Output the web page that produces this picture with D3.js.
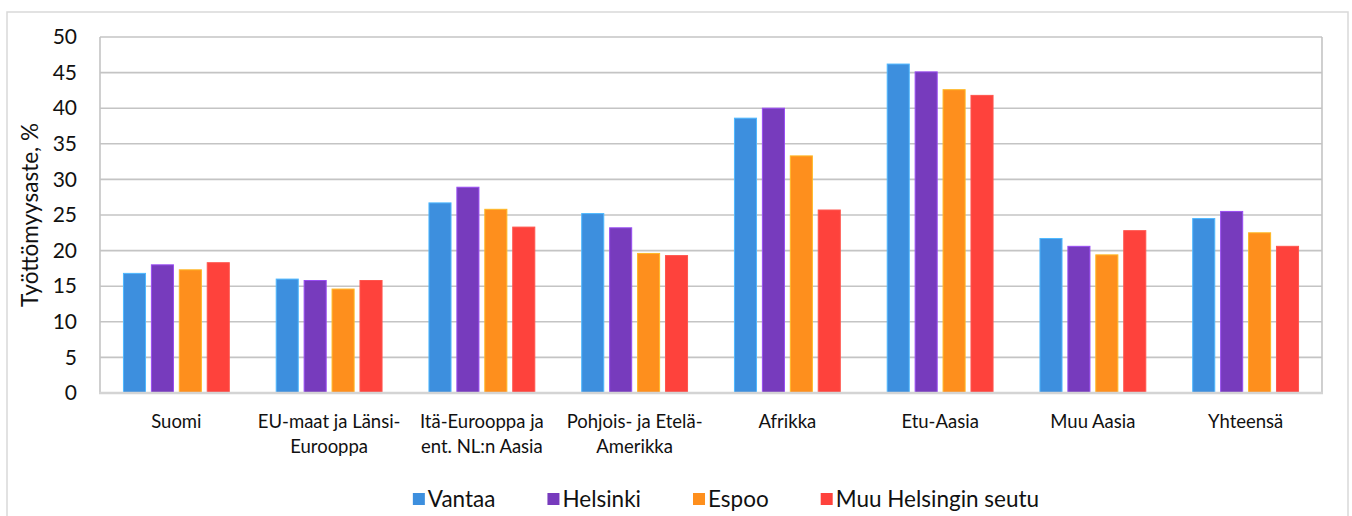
<!DOCTYPE html>
<meta charset="utf-8">
<style>
  body { margin: 0; background: #fff; }
  text { font-family: Lato, "Open Sans", sans-serif; fill: #111; }
</style>
<script src="https://d3js.org/d3.v7.min.js"></script>
<div id="chart"></div>
<script>

    // categories and series (unemployment rate, %)
    var categories = ["Suomi", "EU-maat ja Länsi-|Eurooppa", "Itä-Eurooppa ja|ent. NL:n Aasia",
                      "Pohjois- ja Etelä-|Amerikka", "Afrikka", "Etu-Aasia", "Muu Aasia", "Yhteensä"];
    var seriesNames = ["Vantaa", "Helsinki", "Espoo", "Muu Helsingin seutu"];
    var colors = ["#3d8fde", "#773bbd", "#fe8f1d", "#fe423c"];

    var vantaa   = [16.8, 16.0, 26.7, 25.2, 38.6, 46.2, 21.7, 24.5];
    var helsinki = [18.0, 15.8, 28.9, 23.2, 40.0, 45.1, 20.6, 25.5];
    var espoo    = [17.3, 14.6, 25.8, 19.6, 33.3, 42.6, 19.4, 22.5];
    var muu      = [18.3, 15.8, 23.3, 19.3, 25.7, 41.8, 22.8, 20.6];
    var series = [vantaa, helsinki, espoo, muu];

    var yTicks = [0, 5, 10, 15, 20, 25, 30, 35, 40, 45, 50];

    var width = 1352, height = 516;
    var margin = {top: 37, right: 30, bottom: 123, left: 100};

    var svg = d3.select("#chart")
        .append("svg")
            .attr("width", width)
            .attr("height", height);

    // outer chart frame
    svg.append("rect")
        .attr("x", 7).attr("y", 12)
        .attr("width", 1341).attr("height", 520)
        .attr("fill", "none")
        .attr("stroke", "#d9d9d9")
        .attr("stroke-width", 1.5);

    var x0 = d3.scaleBand()
        .domain(categories)
        .range([margin.left, width - margin.right])
        .padding(0);

    var x1 = d3.scaleBand()
        .domain(d3.range(seriesNames.length))
        .range([0, x0.bandwidth()])
        .paddingInner(0.21)
        .paddingOuter(0.84);

    var y = d3.scaleLinear()
        .domain([0, 50])
        .range([height - margin.bottom, margin.top]);

    // gridlines
    svg.append("g")
        .selectAll("line")
        .data(yTicks.filter(function (d) { return d > 0; }))
        .enter().append("line")
            .attr("x1", margin.left)
            .attr("x2", width - margin.right)
            .attr("y1", function (d) { return y(d); })
            .attr("y2", function (d) { return y(d); })
            .attr("stroke", "#c4c4c4")
            .attr("stroke-width", 1.6);

    // left and right plot borders
    [margin.left, width - margin.right].forEach(function (xx) {
        svg.append("line")
            .attr("x1", xx).attr("x2", xx)
            .attr("y1", y(50)).attr("y2", y(0))
            .attr("stroke", "#c4c4c4")
            .attr("stroke-width", 1.6);
    });

    // bars
    var groups = svg.append("g")
        .selectAll("g")
        .data(categories)
        .enter().append("g")
            .attr("transform", function (d) { return "translate(" + x0(d) + ",0)"; });

    groups.selectAll("rect")
        .data(function (d, i) { return series.map(function (s, k) { return {k: k, v: s[i]}; }); })
        .enter().append("rect")
            .attr("x", function (d) { return x1(d.k); })
            .attr("y", function (d) { return y(d.v); })
            .attr("width", x1.bandwidth())
            .attr("height", function (d) { return y(0) - y(d.v); })
            .attr("fill", function (d) { return colors[d.k]; })
            .attr("stroke", function (d) { return d3.color(colors[d.k]).brighter(0.7); })
            .attr("stroke-width", 1);

    // bottom axis line
    svg.append("line")
        .attr("x1", margin.left - 1).attr("x2", width - margin.right + 1)
        .attr("y1", y(0)).attr("y2", y(0))
        .attr("stroke", "#d4d4d4")
        .attr("stroke-width", 2.5);

    // y axis tick labels
    var yAxis = d3.axisLeft(y).tickValues(yTicks).tickSize(0).tickPadding(0);
    var yg = svg.append("g")
        .attr("transform", "translate(77,0)")
        .call(yAxis);
    yg.select(".domain").remove();
    yg.selectAll("text")
        .style("font-family", "Lato, sans-serif")
        .style("font-size", "21px")
        .attr("fill", "#111");

    // category labels
    var xg = svg.append("g");
    categories.forEach(function (c) {
        var lines = c.split("|");
        var t = xg.append("text")
            .attr("x", x0(c) + x0.bandwidth() / 2)
            .attr("y", 428)
            .attr("text-anchor", "middle")
            .style("font-size", "18.5px");
        lines.forEach(function (l, i) {
            t.append("tspan")
                .attr("x", x0(c) + x0.bandwidth() / 2)
                .attr("dy", i === 0 ? 0 : 25)
                .text(l);
        });
    });

    // y title
    svg.append("text")
        .attr("transform", "translate(38," + (y(25)) + ") rotate(-90)")
        .attr("text-anchor", "middle")
        .style("font-size", "22.5px")
        .text("Työttömyysaste, %");

    // legend
    var legend = svg.append("g");
    var lx = 0;
    seriesNames.forEach(function (name, i) {
        var item = legend.append("g").attr("transform", "translate(" + lx + ",0)");
        item.append("rect")
            .attr("x", 0).attr("y", 493)
            .attr("width", 12).attr("height", 12)
            .attr("fill", colors[i]);
        var t = item.append("text")
            .attr("x", 15).attr("y", 507)
            .style("font-size", "22.5px")
            .text(name);
        lx += 15 + t.node().getComputedTextLength() + 52;
    });
    var legendWidth = lx - 52;
    legend.attr("transform", "translate(" + (726 - legendWidth / 2) + ",0)");

</script>
